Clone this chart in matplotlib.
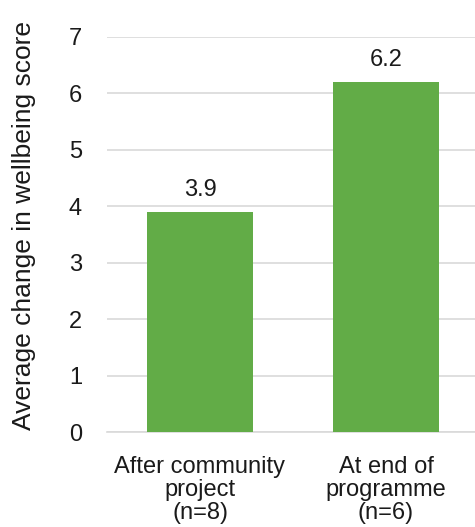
import matplotlib
matplotlib.use("Agg")
import matplotlib.pyplot as plt

# Datos del gráfico
categorias = ["After community\nproject\n(n=8)", "At end of\nprogramme\n(n=6)"]
valores = [3.9, 6.2]
etiquetas_valor = ["3.9", "6.2"]
ticks_y = [0, 1, 2, 3, 4, 5, 6, 7]

plt.rcParams["font.family"] = ["Liberation Sans", "DejaVu Sans"]

COLOR_BARRA = "#62AC47"
COLOR_TEXTO = "#1a1a1a"
COLOR_GRILLA = "#D9D9D9"

fig = plt.figure(figsize=(4.75, 5.27), dpi=100)
ax = fig.add_axes([107 / 475, 0.180, 372 / 475, 0.750])

x = range(len(categorias))
barras = ax.bar(x, valores, width=0.57, color=COLOR_BARRA, zorder=3)

for b, txt in zip(barras, etiquetas_valor):
    ax.annotate(txt, (b.get_x() + b.get_width() / 2, b.get_height()),
                xytext=(0, 22), textcoords="offset pixels",
                ha="center", va="center", fontsize=17, color=COLOR_TEXTO)

ax.set_xlim(-0.5, 1.5)
ax.set_ylim(0, 7)
ax.set_yticks(ticks_y)
ax.set_xticks(list(x))
ax.set_xticklabels(categorias, linespacing=1.08)
ax.tick_params(axis="both", length=0, labelsize=17, colors=COLOR_TEXTO)
ax.tick_params(axis="y", pad=18)
ax.tick_params(axis="x", pad=17)

ax.grid(axis="y", color=COLOR_GRILLA, linewidth=1.2, zorder=0)
for lado in ["top", "right", "left"]:
    ax.spines[lado].set_visible(False)
ax.spines["bottom"].set_color(COLOR_GRILLA)
ax.spines["bottom"].set_linewidth(1.2)

ax.set_ylabel("Average change in wellbeing score", fontsize=19,
              color=COLOR_TEXTO)
ax.yaxis.set_label_coords(-0.19, 0.524)

fig.savefig("out.png", dpi=100)
